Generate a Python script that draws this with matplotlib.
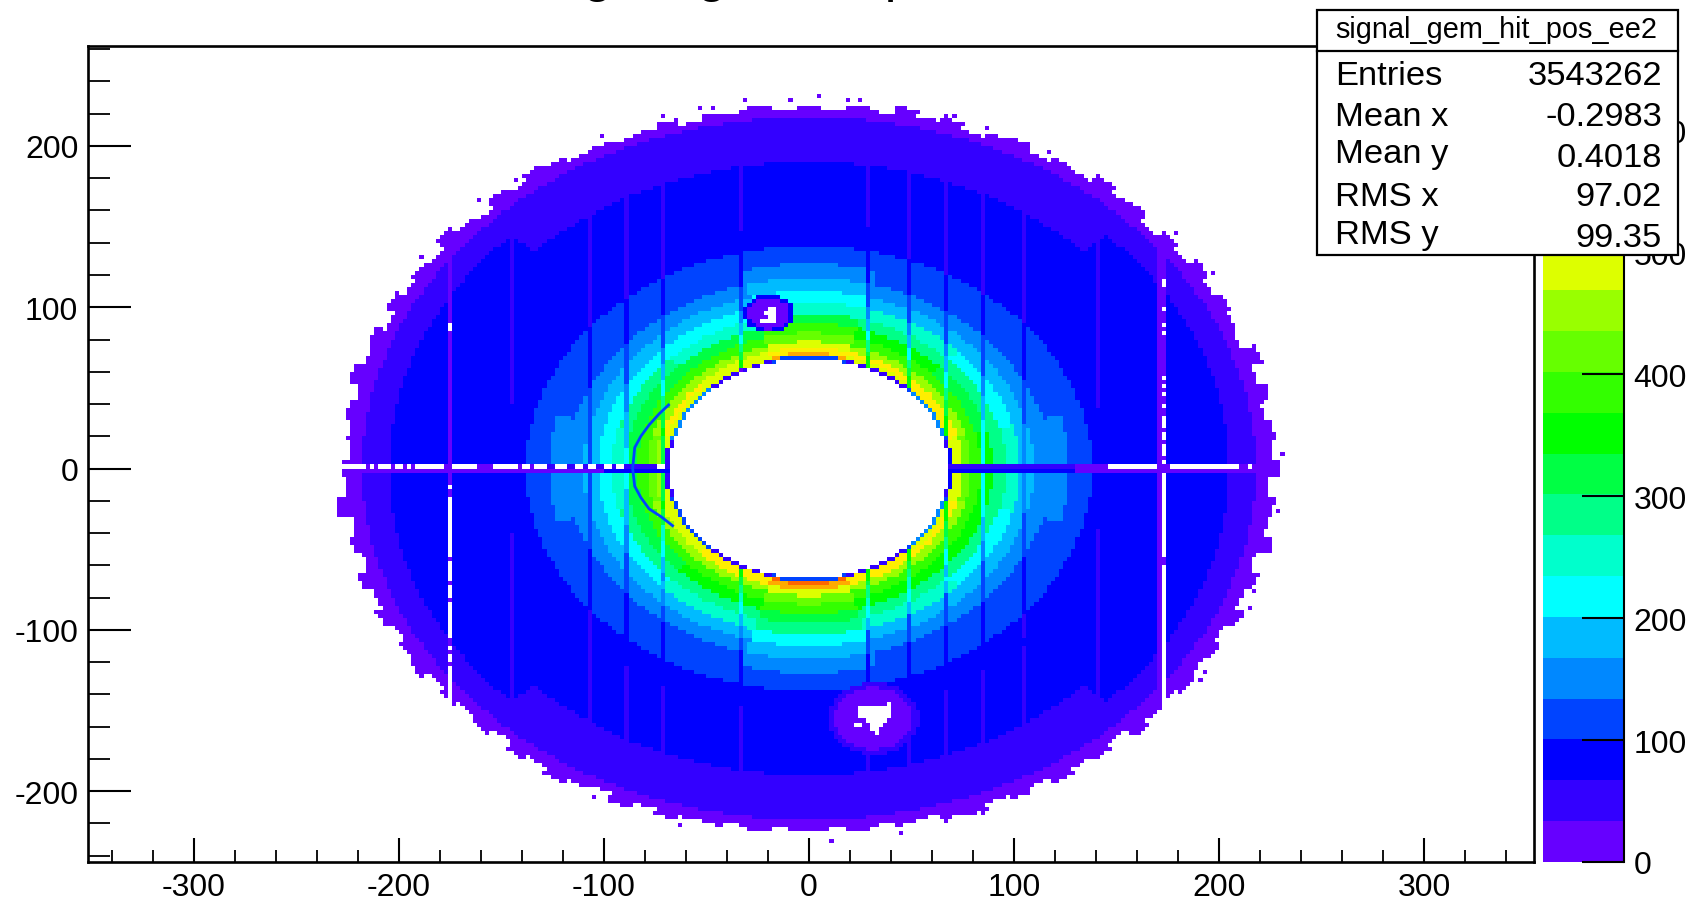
import numpy as np
import matplotlib
matplotlib.use('Agg')
from matplotlib import pyplot as plt
from matplotlib.colors import ListedColormap, BoundaryNorm
from matplotlib.patches import Rectangle
from matplotlib.lines import Line2D
from matplotlib.ticker import MultipleLocator

plt.rcParams['font.family'] = ['Liberation Sans', 'DejaVu Sans']
plt.rcParams['axes.unicode_minus'] = False

W, H = 1693, 903

#-----------------------------------------------------------------------
#	Values
#-----------------------------------------------------------------------

palette = ['#6600ff', '#3300ff', '#0000ff', '#0044ff', '#0088ff', '#00bbff', '#00ffff',
	'#00ffcc', '#00ff88', '#00ff44', '#00ff00', '#33ff00', '#66ff00', '#99ff00', '#ddff00',
	'#ffee00', '#ffaa00', '#ff6600', '#ff3300', '#ff0000']
zmax = 670

ring_start = [68, 70, 72, 75, 79, 84, 90, 96, 103, 110, 118, 127, 138, 152, 170, 190, 205, 218]

# one row per ring, one column per 30 degree sector, counter clockwise from +x
ring_counts = [
	[70, 150, 40, 110, 40, 150, 40, 120, 60, 110, 40, 150],
	[490, 510, 500, 560, 500, 490, 470, 490, 510, 575, 520, 500],
	[480, 510, 510, 530, 500, 510, 460, 500, 510, 550, 520, 510],
	[430, 450, 450, 480, 440, 450, 410, 440, 450, 490, 460, 450],
	[380, 390, 395, 420, 385, 390, 370, 380, 400, 430, 400, 385],
	[335, 325, 335, 370, 325, 325, 320, 325, 345, 380, 345, 335],
	[285, 270, 285, 320, 265, 270, 260, 275, 290, 330, 290, 275],
	[240, 225, 235, 255, 215, 220, 220, 230, 240, 270, 240, 225],
	[195, 180, 190, 215, 175, 178, 190, 190, 195, 215, 190, 185],
	[165, 150, 155, 172, 145, 148, 160, 158, 160, 172, 158, 155],
	[136, 125, 128, 138, 120, 124, 137, 130, 130, 142, 130, 128],
	[110, 108, 108, 112, 102, 104, 112, 110, 110, 116, 110, 110],
	[98, 94, 95, 97, 90, 92, 98, 95, 96, 100, 96, 95],
	[90, 84, 84, 84, 80, 80, 88, 84, 85, 85, 85, 85],
	[80, 76, 72, 70, 72, 76, 78, 76, 72, 72, 72, 76],
	[72, 70, 62, 60, 62, 70, 72, 70, 62, 60, 62, 70],
	[60, 55, 50, 48, 50, 55, 60, 55, 50, 48, 50, 55],
	[15, 15, 15, 15, 15, 15, 15, 15, 15, 15, 15, 15],
]

# outer edge of the filled area, every 3 degrees
edge_radius = [
	230, 226, 228, 224, 229, 225, 231, 224, 226, 228,
	225, 229, 224, 227, 223, 228, 226, 230, 225, 227,
	224, 228, 226, 223, 227, 225, 229, 224, 226, 222,
	225, 223, 226, 224, 225, 222, 226, 224, 223, 225,
	224, 227, 229, 225, 228, 223, 226, 230, 224, 227,
	225, 229, 224, 228, 226, 231, 225, 228, 226, 224,
	229, 226, 231, 225, 228, 224, 230, 226, 229, 224,
	227, 229, 224, 228, 225, 227, 223, 228, 225, 229,
	226, 223, 228, 224, 227, 225, 226, 224, 226, 224,
	225, 224, 226, 224, 226, 224, 227, 229, 225, 228,
	225, 229, 226, 228, 224, 230, 227, 225, 229, 226,
	228, 225, 230, 226, 229, 224, 231, 226, 228, 225,
]

# single filled cells outside the solid rim
stray_x = [5.4, 19, 25, 47, 43, 67, 71, 87, 117, 178.6, 149, 197, -47, -53, -31, -9, -71, -101,
	-142, -161, -189, 231, 229, 217, 215, 193, 191, 11, 45, -62, -105, 67, 85]
stray_y = [230.6, 230, 228.6, 225, 225, 219, 219, 211, 196, 145.7, 175, 121.6, 225, 224, 229, 229,
	219, 206, 178, 167, 132, 8.7, -27, -75, -85, -125, -131, -232, -227, -221, -204, -219, -213]

# darker columns
dark_columns = [-145, -107, -89, -71.5, -33.7, 29.7, 50, 67.7, 85.5, 105.6, 141]

# the dead row just above y=0 and the column pair near x=+-175
row_white = [(-228, -216), (-213.7, -212), (-209.6, -204.4), (-202, -198), (-195.5, -193.8),
	(-191.7, -177.6), (-173.5, -170), (-169.4, -162), (-154, -141.8), (-139.4, -136),
	(-133.7, -127), (-124.7, -118), (-115, -110), (-108.5, -103.6), (-101, -96.3), (-94, -90.6),
	(-73.5, -70), (141, 143), (145, 172), (175, 210), (214, 217)]
left_col_white = [(84, 89), (-13.7, -10.8), (-54.6, -16.4), (-71.2, -56.7), (-79.5, -73.2),
	(-106, -81.5), (-112.5, -108.8), (-120.8, -114.6), (-150, -122.9)]
right_col_white = [(115.5, 118), (111.5, 114), (97.5, 100), (87, 89.5), (82.5, 85), (55, 58),
	(50.5, 53), (45.5, 48), (37.3, 39.4), (26, 33.2), (17.7, 21.8), (7.4, 15.6), (2.2, 5.3),
	(-55.7, -2), (-150, -58.8)]

# the two shadowed spots: centre x, centre y, inner radius, outer radius, counts
spot_x = [-19.5, 31.5]
spot_y = [96, -155]
spot_inner = [10, 19]
spot_outer = [12, 22]
spot_ring_counts = [85, 50]

# empty cells inside the spots (x0, x1, y0, y1)
spot_white = [(-20.6, -16.7, 97.3, 99.5), (-22, -16.7, 95, 97.3), (-20, -16.7, 93, 95),
	(-24.5, -16.7, 91, 93), (37, 41, -148.5, -144.6), (25.6, 32.8, -148.5, -146.7),
	(23.5, 41, -154, -148.5), (23.5, 35, -156, -154), (27, 38.6, -158, -156),
	(21.6, 25.6, -160, -158), (29.7, 36, -160, -158), (29.7, 35, -163, -160), (32, 33.7, -166, -163)]

# thin arcs left of the hole
arc_x = [-66, -72, -78, -82, -85, -86, -85, -82, -78, -73, -68]
arc_y = [-36, -30, -25, -18, -11, 0, 13, 20, 27, 34, 40]

xticks = [-300, -200, -100, 0, 100, 200, 300]
yticks = [-200, -100, 0, 100, 200]
zticks = [0, 100, 200, 300, 400, 500, 600]

stats_names = ['Entries', 'Mean x', 'Mean y', 'RMS x', 'RMS y']
stats_values = ['3543262', '-0.2983', '0.4018', '97.02', '99.35']

#-----------------------------------------------------------------------
#	Build the cell table
#-----------------------------------------------------------------------

x_edges = np.arange(-350, 352, 2.0)
y_edges = np.arange(-250, 252.5, 2.5)
xc = (x_edges[:-1] + x_edges[1:]) / 2
yc = (y_edges[:-1] + y_edges[1:]) / 2
X, Y = np.meshgrid(xc, yc)
R = np.hypot(X, Y)
ang = np.degrees(np.arctan2(Y, X)) % 360

table = np.array(ring_counts, dtype=float)
ring = np.clip(np.searchsorted(ring_start, R, side='right') - 1, 0, len(ring_start) - 1)
sector = np.round(ang / 30).astype(int) % 12
Z = table[ring, sector]

for cx in dark_columns:
	Z[:, np.argmin(np.abs(xc - cx))] *= 0.7

# rows around y=0
row_up = np.argmin(np.abs(yc - 1.25))
row_down = np.argmin(np.abs(yc + 1.25))
Z[row_up, :] = np.where(np.abs(xc) < 130, 60, 20)
Z[row_down, :] = np.where((xc > -100) & (xc < 130), 70, 20)
for x0, x1 in row_white:
	Z[row_up, (xc > x0) & (xc < x1)] = np.nan

# columns near x=+-175
col_l = np.argmin(np.abs(xc + 175))
col_r = np.argmin(np.abs(xc - 173))
Z[:, col_l] = np.where(yc > 0, 25, 30)
Z[:, col_r] = 30
Z[:, col_r - 1] = 30
for y0, y1 in left_col_white:
	Z[(yc > y0) & (yc < y1), col_l] = np.nan
for y0, y1 in right_col_white:
	Z[(yc > y0) & (yc < y1), col_r] = np.nan

for i in range(len(spot_x)):
	d = np.hypot(X - spot_x[i], Y - spot_y[i])
	Z[d < spot_outer[i]] = spot_ring_counts[i]
	Z[d < spot_inner[i]] = 15
for x0, x1, y0, y1 in spot_white:
	Z[(X > x0) & (X < x1) & (Y > y0) & (Y < y1)] = np.nan

edge = np.array(edge_radius)[np.round(ang / 3).astype(int) % 120]
Z[(R < ring_start[0]) | (R > edge)] = np.nan

for sx, sy in zip(stray_x, stray_y):
	Z[np.argmin(np.abs(yc - sy)), np.argmin(np.abs(xc - sx))] = 15

#-----------------------------------------------------------------------
#	Draw
#-----------------------------------------------------------------------

def fx(px):
	return px / W

def fy(py):
	return 1 - py / H

cmap = ListedColormap(palette)
cmap.set_bad('white')
levels = np.linspace(0, zmax, len(palette) + 1)
norm = BoundaryNorm(levels, len(palette))

fig = plt.figure(figsize=(W / 100, H / 100), dpi=100)

ax = fig.add_axes([fx(88), fy(863), fx(1534 - 88), (863 - 47) / H])
ax.pcolormesh(x_edges, y_edges, np.ma.masked_invalid(Z), cmap=cmap, norm=norm, antialiased=False, linewidth=0)
ax.plot(arc_x, arc_y, color='#0044ff', lw=2, solid_capstyle='butt')
ax.set_xlim(-351.7, 353.7)
ax.set_ylim(-244, 262)
ax.set_xticks(xticks)
ax.set_yticks(yticks)
ax.xaxis.set_minor_locator(MultipleLocator(20))
ax.yaxis.set_minor_locator(MultipleLocator(20))
ax.tick_params(axis='x', which='major', direction='in', length=17.3, width=1.5, labelsize=23, pad=7)
ax.tick_params(axis='x', which='minor', direction='in', length=8.6, width=1.3)
ax.tick_params(axis='y', which='major', direction='in', length=31, width=1.5, labelsize=23, pad=7)
ax.tick_params(axis='y', which='minor', direction='in', length=15.8, width=1.3)
for s in ax.spines.values():
	s.set_linewidth(1.9)

cax = fig.add_axes([fx(1543), fy(863), fx(1624 - 1543), (863 - 46) / H])
cax.pcolormesh([0, 1], levels, np.array(levels[:-1]).reshape(-1, 1) + 1, cmap=cmap, norm=norm, antialiased=False)
cax.set_ylim(0, zmax)
cax.set_xlim(0, 1)
cax.set_xticks([])
cax.yaxis.tick_right()
cax.set_yticks(zticks)
cax.tick_params(axis='y', direction='in', length=30, width=1.5, labelsize=23, pad=7)
for name in ['left', 'top', 'bottom']:
	cax.spines[name].set_visible(False)
cax.spines['right'].set_linewidth(1.5)

# title runs off the top of the canvas, only the descenders show
fig.text(fx(545), fy(-9), 'signal gem hit pos ee2', fontsize=38, ha='left', va='baseline')

# stats box
fig.add_artist(Rectangle((fx(1317), fy(256)), fx(1678 - 1317), (256 - 11) / H, transform=fig.transFigure,
	facecolor='white', edgecolor='black', linewidth=1.6, zorder=5))
fig.add_artist(Line2D([fx(1317), fx(1678)], [fy(52), fy(52)], color='black', linewidth=1.6, zorder=6))
fig.text(fx(1496), fy(38), 'signal_gem_hit_pos_ee2', fontsize=20.8, ha='center', va='baseline', zorder=7)
name_base = [85, 126, 163, 206, 244]
value_base = [85, 126, 167, 206, 247]
for i in range(len(stats_names)):
	fig.text(fx(1335), fy(name_base[i]), stats_names[i], fontsize=24.8, ha='left', va='baseline', zorder=7)
	fig.text(fx(1662), fy(value_base[i]), stats_values[i], fontsize=24.8, ha='right', va='baseline', zorder=7)

fig.savefig('out.png', dpi=100)
